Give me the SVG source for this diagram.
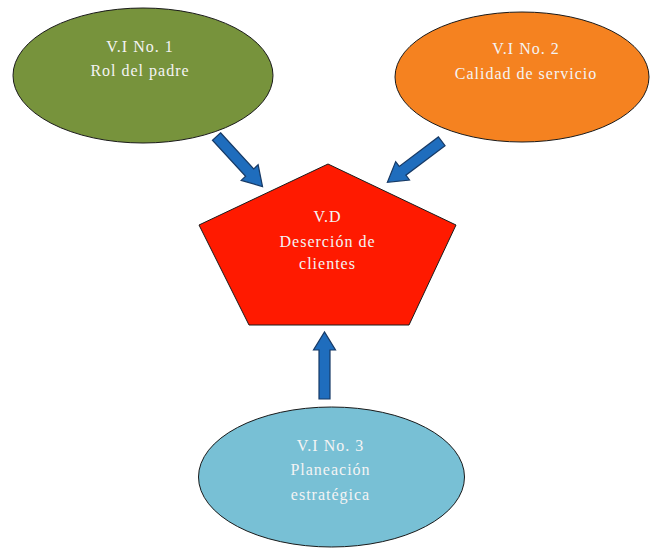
<svg xmlns="http://www.w3.org/2000/svg" width="650" height="548" viewBox="0 0 650 548">
<style>
.shape{stroke:#1a1a1a;stroke-width:1}
.lbl{font-family:"Liberation Serif","Times New Roman",serif;font-size:16px;letter-spacing:1px;fill:#f4f4f4;text-anchor:middle}
.arr{fill:#1f6dbd;stroke:#173a66;stroke-width:1.2;stroke-linejoin:miter}
</style>
<defs>
<path id="arrowShape" d="M0,-5.5 L49,-5.5 L49,-11.5 L68,0 L49,11.5 L49,5.5 L0,5.5 Z"/>
</defs>
<rect width="650" height="548" fill="#ffffff"/>
<g id="connectors">
<use href="#arrowShape" class="arr" transform="translate(216.5,136.5) rotate(47.4)"/>
<use href="#arrowShape" class="arr" transform="translate(441.7,141.3) rotate(143)"/>
<path class="arr" d="M319,399 L319,350 L313.5,350 L324.5,332 L335.5,350 L330,350 L330,399 Z"/>
</g>
<g id="vi1">
<ellipse class="shape" cx="143" cy="75.5" rx="130" ry="67.5" fill="#77933c"/>
<text class="lbl" x="140" y="52">V.I No. 1</text>
<text class="lbl" x="140" y="76">Rol del padre</text>
</g>
<g id="vi2">
<ellipse class="shape" cx="522" cy="77" rx="127" ry="65" fill="#f58220"/>
<text class="lbl" x="526" y="54">V.I No. 2</text>
<text class="lbl" x="526" y="79">Calidad de servicio</text>
</g>
<g id="vd">
<polygon class="shape" points="328,164 456,225 409,325 249,325 199,225" fill="#ff1a00"/>
<text class="lbl" x="327.5" y="222">V.D</text>
<text class="lbl" x="327.5" y="247">Deserción de</text>
<text class="lbl" x="327.5" y="269">clientes</text>
</g>
<g id="vi3">
<ellipse class="shape" cx="331.5" cy="477" rx="133" ry="70" fill="#78c0d5"/>
<text class="lbl" x="330.5" y="451">V.I No. 3</text>
<text class="lbl" x="330.5" y="475">Planeación</text>
<text class="lbl" x="330.5" y="500">estratégica</text>
</g>
</svg>
